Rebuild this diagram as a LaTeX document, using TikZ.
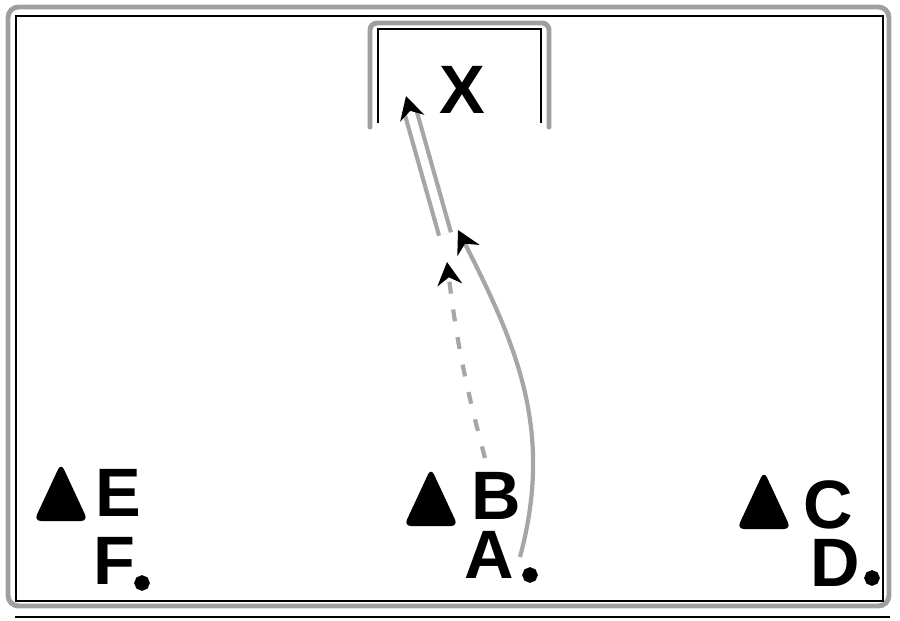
\documentclass[tikz,border=0pt]{standalone}
\usepackage{fontspec}
\setmainfont{Liberation Sans}
\usetikzlibrary{arrows.meta,calc}
\newcommand{\cone}[1]{\fill[rounded corners=2pt] ($(#1)+(-0.27,0)$) -- ($(#1)+(0.27,0)$) -- ($(#1)+(0,0.58)$) -- cycle;}

\begin{document}
\begin{tikzpicture}[letter/.style={font=\bfseries\fontsize{19.5}{22}\selectfont,inner sep=0pt},
    spot/.style={circle,draw,line width=2.3pt,fill=white,minimum size=0.07cm,inner sep=0pt},
    post/.style={gray!75,line width=1.4pt,line cap=round},
    run/.style={gray!70,line width=1.2pt,-{Stealth[black,length=6.5pt,width=7pt]}}]
        \useasboundingbox (0,0) rectangle (9,6.2);
        % pitch
        \draw[post,rounded corners=3pt] (0.08,0.14) rectangle (8.89,6.13);
        \draw[line width=0.5pt] (0.16,0.19) rectangle (8.83,6.04);
        \draw[line width=0.5pt] (0.15,0.03) -- (8.90,0.03);

        % goal
        \draw[post,rounded corners=2pt] (3.70,4.93) -- (3.70,5.97) -- (5.49,5.97) -- (5.49,4.93);
        \draw[line width=0.5pt] (3.78,4.97) -- (3.78,5.91) -- (5.41,5.91) -- (5.41,4.97);
        \node[letter] (X) at (4.62,5.30) {X};

        \coordinate (coneE) at (0.61,0.99);
        \coordinate (coneB) at (4.31,0.94);
        \coordinate (coneC) at (7.64,0.91);
        \cone{coneE}
        \cone{coneB}
        \cone{coneC}

        \node[letter] (E) at (1.18,1.27) {E};
        \node[letter] (F) at (1.14,0.59) {F};
        \node[letter] (B) at (4.96,1.24) {B};
        \node[letter] (A) at (4.89,0.65) {A};
        \node[letter] (C) at (8.28,1.15) {C};
        \node[letter] (D) at (8.35,0.57) {D};
        \node[spot] (dotF) at (1.42,0.37) {};
        \node[spot] (dotA) at (5.30,0.45) {};
        \node[spot] (dotD) at (8.72,0.42) {};

        \coordinate (startA) at (5.20,0.63);
        \coordinate (runA) at (4.58,3.90);
        \coordinate (startB) at (4.85,1.62);
        \coordinate (passB) at (4.47,3.58);
        \coordinate (turnA) at (4.45,3.86);
        \coordinate (shot) at (4.06,5.24);

        \draw[run] (startA) .. controls (5.54,1.89) and (5.17,2.74) .. (runA);
        \draw[run,dash pattern=on 0.12cm off 0.16cm] (startB) to[bend left=4] (passB);
        \draw[run,double=white,double distance=0.08cm] (turnA) -- (shot);
    \end{tikzpicture}
\end{document}
